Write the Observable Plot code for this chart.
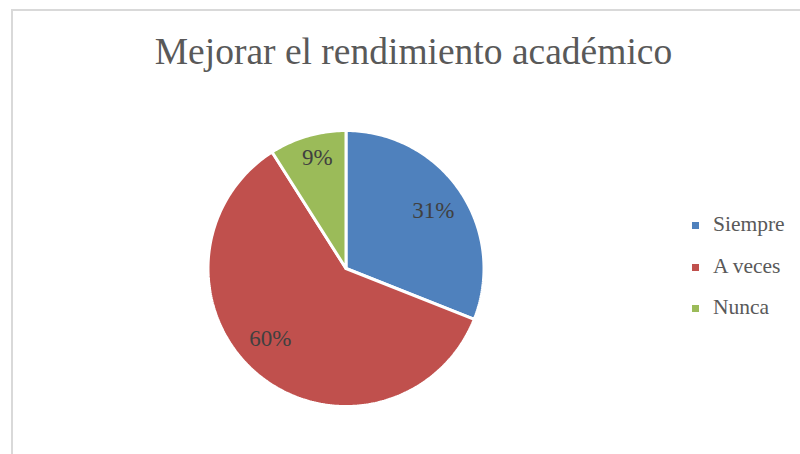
<!DOCTYPE html>
<html>
<head>
<meta charset="utf-8">
<script src="https://cdn.jsdelivr.net/npm/d3@7"></script>
<script src="https://cdn.jsdelivr.net/npm/@observablehq/plot@0.6"></script>
<style>
  html, body { margin: 0; padding: 0; background: #fff; }
  #wrap { position: relative; width: 800px; height: 454px; overflow: hidden; font-family: "Liberation Serif", "Times New Roman", serif; }
  #frame { position: absolute; left: 11px; top: 9px; width: 900px; height: 600px; border-left: 2px solid #d9d9d9; border-top: 2px solid #d9d9d9; }
  #title { position: absolute; left: 0; width: 827px; top: 29.5px; text-align: center; font-size: 37.5px; line-height: normal; color: #595959; white-space: nowrap; }
  #legend { position: absolute; left: 692px; top: 212px; font-size: 21.5px; color: #595959; }
  .item { height: 41.5px; display: flex; align-items: flex-start; }
  .sw { width: 7px; height: 7px; margin-top: 10px; margin-right: 14px; flex: none; }
  #chart { position: absolute; left: 0; top: 0; }
</style>
</head>
<body>
<div id="wrap">
  <div id="frame"></div>
  <div id="chart"></div>
  <div id="title">Mejorar el rendimiento académico</div>
  <div id="legend"></div>
</div>
<script>
const categories = ["Siempre", "A veces", "Nunca"];
const values = [31, 60, 9];
const labels = ["31%", "60%", "9%"];
const colors = ["#4F81BD", "#C0504D", "#9BBB59"];

const data = categories.map((c, i) => ({category: c, value: values[i], label: labels[i]}));
const arcs = d3.pie().sort(null).value(d => d.value)(data);

// slice outlines in unit-circle coordinates (angle measured clockwise from 12 o'clock)
const slicePts = [];
arcs.forEach(a => {
  slicePts.push({category: a.data.category, x: 0, y: 0});
  const n = Math.max(8, Math.ceil((a.endAngle - a.startAngle) * 60));
  for (let k = 0; k <= n; k++) {
    const t = a.startAngle + (a.endAngle - a.startAngle) * k / n;
    slicePts.push({category: a.data.category, x: Math.sin(t), y: Math.cos(t)});
  }
  slicePts.push({category: a.data.category, x: 0, y: 0});
});

// "best fit" label placement: fraction of radius and small angular shift (radians)
const labelRadius = [0.76, 0.75, 0.83];
const labelShift = [0.01, 0.13, 0.03];
const labelPts = arcs.map((a, i) => {
  const m = (a.startAngle + a.endAngle) / 2 + labelShift[i];
  return {label: a.data.label, x: Math.sin(m) * labelRadius[i], y: Math.cos(m) * labelRadius[i]};
});

const cx = 345.5, cy = 268, r = 138;
const plot = Plot.plot({
  width: 800,
  height: 454,
  margin: 0,
  style: {background: "transparent", fontFamily: "Liberation Serif, serif"},
  x: {domain: [-1, 1], range: [cx - r, cx + r], axis: null},
  y: {domain: [-1, 1], range: [cy + r, cy - r], axis: null},
  color: {domain: categories, range: colors},
  marks: [
    Plot.line(slicePts, {x: "x", y: "y", z: "category", fill: "category", stroke: "white", strokeWidth: 3, strokeLinejoin: "miter", curve: "linear"}),
    Plot.text(labelPts, {x: "x", y: "y", text: "label", fontSize: 23, fill: "#404040", fontFamily: "Liberation Serif, serif"})
  ]
});
document.getElementById("chart").appendChild(plot);

const legend = document.getElementById("legend");
categories.forEach((c, i) => {
  const it = document.createElement("div");
  it.className = "item";
  it.innerHTML = `<span class="sw" style="background:${colors[i]}"></span><span>${c}</span>`;
  legend.appendChild(it);
});
</script>
</body>
</html>
